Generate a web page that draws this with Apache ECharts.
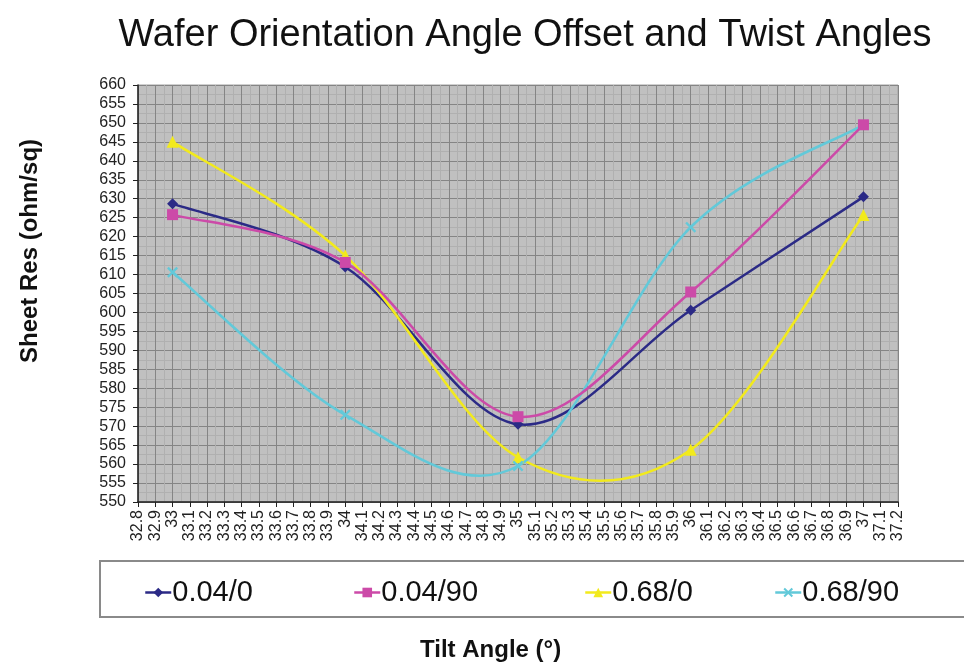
<!DOCTYPE html>
<html>
<head>
<meta charset="utf-8">
<script src="https://cdn.jsdelivr.net/npm/echarts@6/dist/echarts.min.js"></script>
<style>
html,body{margin:0;padding:0;background:#fff;}
#chart{width:964px;height:662px;}
</style>
</head>
<body>
<div id="chart"></div>
<script>
var tiltAngles = [33, 34, 35, 36, 37];
var seriesNames = ['0.04/0', '0.04/90', '0.68/0', '0.68/90'];
var res_004_0 = [628.7, 612.0, 570.5, 600.6, 630.5];
var res_004_90 = [625.8, 613.2, 572.5, 605.4, 649.5];
var res_068_0 = [645.0, 615.0, 561.8, 563.8, 625.7];
var res_068_90 = [610.6, 573.0, 559.5, 622.5, 649.5];
var yMin = 550, yMax = 660, yStep = 5;
var xMin = 32.8, xMax = 37.2, xStep = 0.1;

var colors = ['#2B2A86', '#CC4AA8', '#F2EA1C', '#62C9D9'];
var xPath = 'path://M0,1.5L1.5,0L5,3.5L8.5,0L10,1.5L6.5,5L10,8.5L8.5,10L5,6.5L1.5,10L0,8.5L3.5,5Z';
var symbols = ['diamond', 'rect', 'triangle', xPath];
var symbolSizes = [11, 11, 12, 11];
var allValues = [res_004_0, res_004_90, res_068_0, res_068_90];

function pairs(vals) {
  return tiltAngles.map(function (x, i) { return [x, vals[i]]; });
}

// Marker series (also used for the legend icons)
var markerSeries = seriesNames.map(function (name, i) {
  return {
    name: name,
    type: 'line',
    data: pairs(allValues[i]),
    symbol: symbols[i],
    symbolSize: symbolSizes[i],
    lineStyle: { color: colors[i], width: 2.5, opacity: 0 },
    itemStyle: { color: colors[i] },
    z: 5 + (i === 1 ? 1 : 0)
  };
});

// Smoothed curves (Excel-style cardinal spline through the data points, mapped by the axes)
var curveSeries = seriesNames.map(function (name, i) {
  var vals = allValues[i];
  return {
    name: name,
    type: 'custom',
    data: pairs(vals),
    z: 3 + (i === 1 ? 1 : 0),
    silent: true,
    renderItem: function (params, api) {
      var k = params.dataIndex;
      var n = tiltAngles.length;
      if (k >= n - 1) return null;
      function P(j) {
        j = Math.max(0, Math.min(n - 1, j));
        return api.coord([tiltAngles[j], vals[j]]);
      }
      var p0 = P(k - 1), p1 = P(k), p2 = P(k + 1), p3 = P(k + 2);
      var t = 1 / 6;
      return {
        type: 'bezierCurve',
        shape: {
          x1: p1[0], y1: p1[1], x2: p2[0], y2: p2[1],
          cpx1: p1[0] + (p2[0] - p0[0]) * t, cpy1: p1[1] + (p2[1] - p0[1]) * t,
          cpx2: p2[0] - (p3[0] - p1[0]) * t, cpy2: p2[1] - (p3[1] - p1[1]) * t
        },
        style: { stroke: colors[i], lineWidth: 2.5, fill: null }
      };
    }
  };
});

var legendLefts = [139, 348, 579, 769];
var legends = seriesNames.map(function (name, i) {
  return {
    data: [name],
    left: legendLefts[i],
    top: 573,
    itemWidth: 26,
    itemHeight: 12,
    itemGap: 0,
    lineStyle: { width: 2.5, opacity: 1 },
    textStyle: { fontSize: 29, color: '#111', fontFamily: 'Liberation Sans', padding: [0, 0, 0, -4] }
  };
});

var chart = echarts.init(document.getElementById('chart'), null, { renderer: 'canvas' });
chart.setOption({
  backgroundColor: '#ffffff',
  animation: false,
  color: colors,
  title: {
    text: 'Wafer Orientation Angle Offset and Twist Angles',
    left: 520,
    textAlign: 'center',
    top: 12,
    textStyle: { fontSize: 38, fontWeight: 'normal', color: '#111', fontFamily: 'Liberation Sans' }
  },
  legend: legends,
  graphic: [{
    type: 'rect',
    shape: { x: 100, y: 561, width: 880, height: 56 },
    style: { fill: 'none', stroke: '#8a8a8a', lineWidth: 2 },
    z: 0
  }, {
    type: 'text',
    left: 420,
    top: 638,
    style: { text: 'Tilt Angle (°)', fontSize: 24, fontWeight: 'bold', fill: '#111', fontFamily: 'Liberation Sans' }
  }, {
    type: 'text',
    rotation: Math.PI / 2,
    x: 18,
    y: 363,
    style: { text: 'Sheet Res (ohm/sq)', fontSize: 24, fontWeight: 'bold', fill: '#111', fontFamily: 'Liberation Sans' }
  }],
  grid: {
    left: 138, right: 66, top: 85, bottom: 160,
    show: true,
    backgroundColor: '#C0C0C0',
    borderColor: '#A0A0A0',
    borderWidth: 1
  },
  xAxis: {
    type: 'value',
    min: xMin, max: xMax, interval: xStep,
    axisLine: { show: true, lineStyle: { color: '#222', width: 1.5 } },
    axisTick: { show: true, length: 5, lineStyle: { color: '#222' } },
    axisLabel: {
      rotate: 90, fontSize: 16, color: '#222', fontFamily: 'Liberation Sans', margin: 8,
      formatter: function (v) { return String(Math.round(v * 10) / 10); }
    },
    splitLine: { show: true, lineStyle: { color: '#858585', width: 1 } },
    minorTick: { show: false, splitNumber: 2 },
    minorSplitLine: { show: true, lineStyle: { color: '#B0B0B0', width: 1 } }
  },
  yAxis: {
    type: 'value',
    min: yMin, max: yMax, interval: yStep,
    axisLine: { show: true, lineStyle: { color: '#222', width: 1.5 } },
    axisTick: { show: true, length: 5, lineStyle: { color: '#222' } },
    axisLabel: { fontSize: 16, color: '#222', fontFamily: 'Liberation Sans', margin: 12 },
    splitLine: { show: true, lineStyle: { color: '#858585', width: 1 } },
    minorTick: { show: false, splitNumber: 2 },
    minorSplitLine: { show: true, lineStyle: { color: '#B0B0B0', width: 1 } }
  },
  series: markerSeries.concat(curveSeries)
});
</script>
</body>
</html>
